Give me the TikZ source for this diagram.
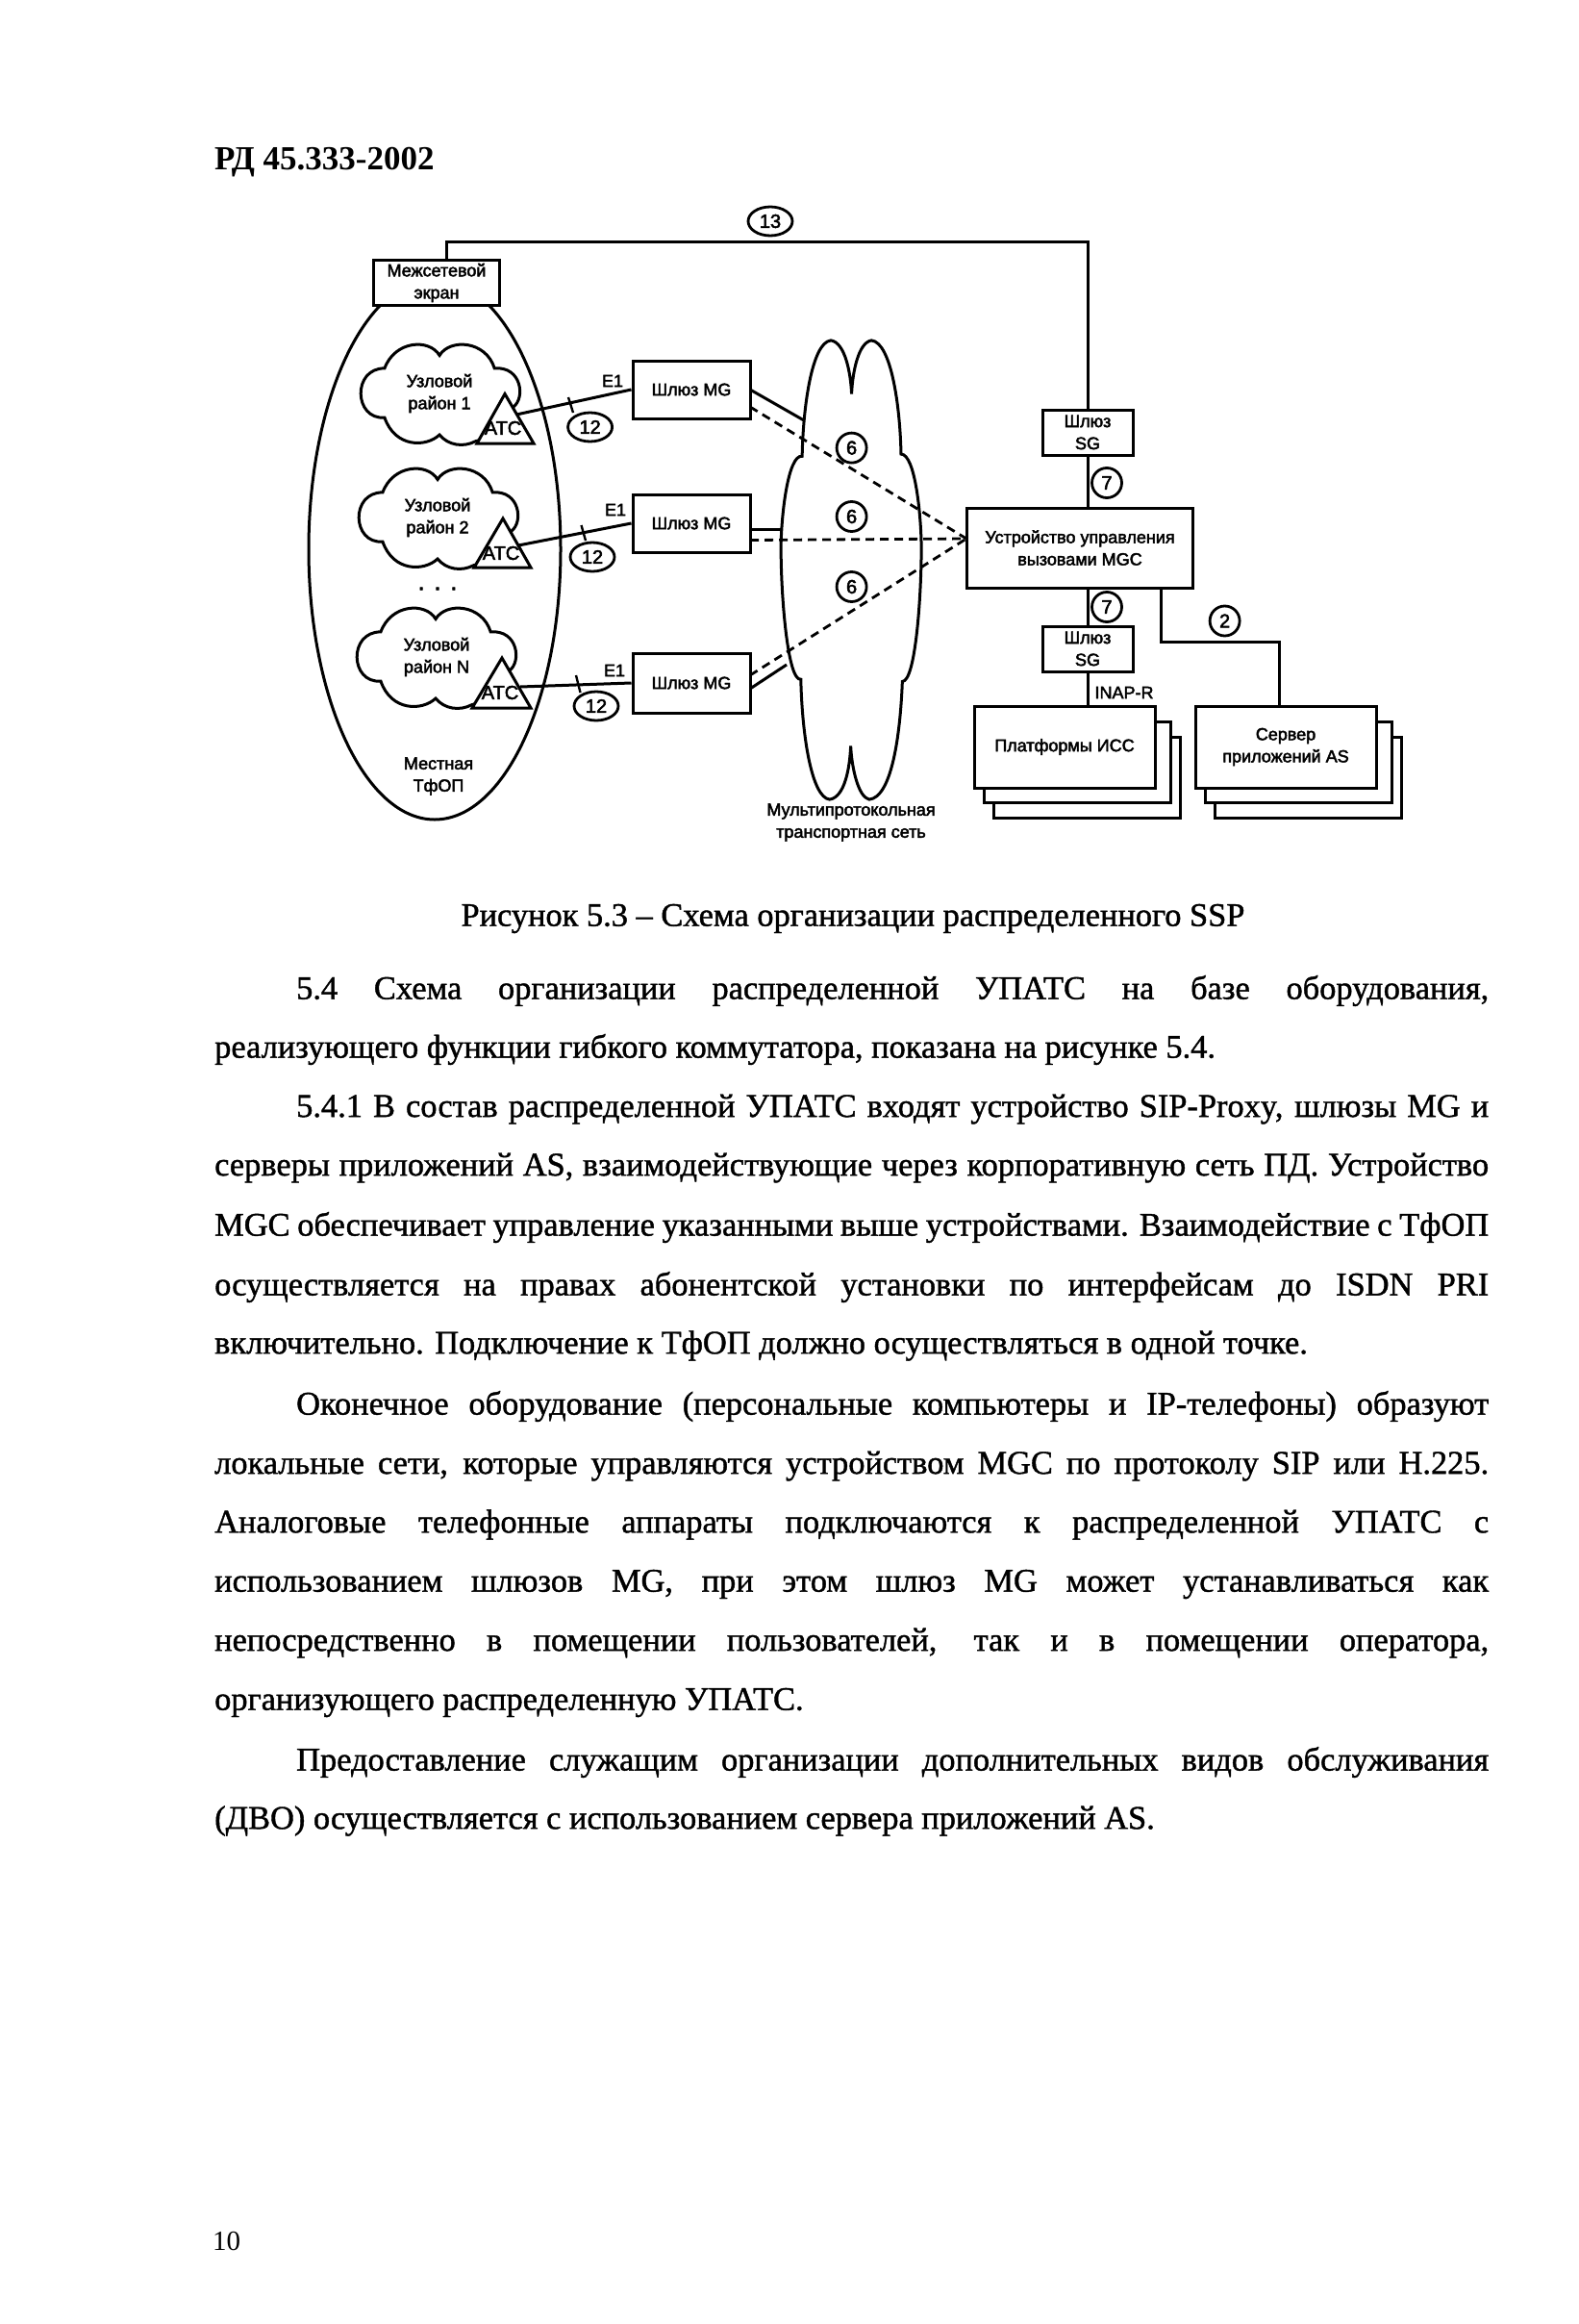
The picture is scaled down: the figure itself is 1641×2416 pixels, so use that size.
\documentclass[tikz,border=0pt]{standalone}
\usepackage{fontspec}
\usetikzlibrary{shapes.geometric}
\setmainfont{Liberation Serif}
\newfontfamily\bodyf[FakeBold=1.2]{Liberation Serif}
\newfontfamily\diagf[FakeBold=2.5]{Liberation Sans}
\newcommand{\bodysize}{\fontsize{34.4}{46}\selectfont\bodyf}
\newcommand{\dgsize}{\fontsize{18}{23}\selectfont\diagf}
\newcommand{\jline}[3]{\node[txt] (#1) at (223,#2) {\makebox[1325pt][s]{#3}};}
\newcommand{\iline}[3]{\node[txt] (#1) at (308,#2) {\makebox[1240pt][s]{#3}};}
\newcommand{\lline}[3]{\node[txt] (#1) at (223,#2) {#3};}
\newcommand{\cloudshape}[2]{%
 \begin{scope}[shift={(#1,#2)},xscale=.357,yscale=.446]
 \draw[ln,fill=white] (280,410) .. controls (310,345) and (410,340) .. (440,380)
  .. controls (470,340) and (575,345) .. (600,410)
  .. controls (680,405) and (690,480) .. (655,500)
  .. controls (650,550) and (600,570) .. (545,580)
  .. controls (510,595) and (465,590) .. (440,565)
  .. controls (400,595) and (310,595) .. (280,525)
  .. controls (190,530) and (185,410) .. (280,410) -- cycle;
 \end{scope}}
\tikzset{
 x=1pt,y=-1pt,
 ln/.style={line width=3pt,black},
 thin ln/.style={line width=2.4pt,black},
 dash ln/.style={line width=2.8pt,black,dash pattern=on 9pt off 6pt},
 txt/.style={anchor=west,inner sep=0pt,font=\bodysize},
 lbl/.style={inner sep=0pt,font=\dgsize,align=center},
 box/.style={draw,line width=3pt,fill=white,inner sep=0pt,font=\dgsize,align=center},
 circ/.style={draw,line width=2.8pt,fill=white,circle,minimum size=31pt,inner sep=0pt,font=\fontsize{20}{23}\selectfont\diagf},
 oval/.style={draw,line width=2.8pt,fill=white,ellipse,minimum width=46pt,minimum height=30pt,inner sep=0pt,font=\fontsize{20}{23}\selectfont\diagf},
}
\begin{document}
\begin{tikzpicture}
\useasboundingbox[fill=white] (0,0) rectangle (1641,2416);
\fill[white] (0,0) rectangle (1641,2416);
% header
\node[inner sep=0pt,anchor=west,font=\fontsize{35}{42}\selectfont\bfseries] (hdr) at (223,169) {РД 45.333-2002};
% big ellipse
\node[draw,line width=3pt,ellipse,minimum width=262pt,minimum height=562pt,inner sep=0pt] (pstn) at (452,571) {};
% clouds
\cloudshape{300}{200}
\cloudshape{298}{329}
\cloudshape{296}{474}
% triangles
\draw[ln,fill=white] (525,409.5) -- (496,461) -- (555,461) -- cycle;
\draw[ln,fill=white] (523,539) -- (493,590) -- (552,590) -- cycle;
\draw[ln,fill=white] (522,684) -- (491,736) -- (552,736) -- cycle;
\node[lbl,font=\fontsize{20}{23}\selectfont\diagf] (atc1) at (523,445) {АТС};
\node[lbl,font=\fontsize{20}{23}\selectfont\diagf] (atc2) at (521,575) {АТС};
\node[lbl,font=\fontsize{20}{23}\selectfont\diagf] (atc3) at (520,720) {АТС};
\coordinate (a1) at (537,431);
\coordinate (a2) at (539,567);
\coordinate (a3) at (541,714);
% cloud labels
\node[lbl] (d1) at (457,409) {Узловой\\район 1};
\node[lbl] (d2) at (455,538) {Узловой\\район 2};
\node[lbl] (d3) at (454,683) {Узловой\\район N};
\node[lbl,font=\fontsize{26}{26}\selectfont\diagf] (dots) at (455,612) {. . .};
\node[lbl] (local) at (456,807) {Местная\\ТфОП};
% firewall
\node[box,minimum width=131pt,minimum height=47pt] (fw) at (454,294) {Межсетевой\\экран};
% transport cloud
\begin{scope}[shift={(780,200)},xscale=.459,yscale=.446]
\draw[ln,fill=white] (183,345) .. controls (215,350) and (228,420) .. (230,470)
 .. controls (232,420) and (245,350) .. (275,345)
 .. controls (320,350) and (340,500) .. (342,610)
 .. controls (375,610) and (388,760) .. (388,830)
 .. controls (388,940) and (375,1140) .. (345,1140)
 .. controls (340,1270) and (320,1410) .. (270,1415)
 .. controls (245,1410) and (230,1340) .. (228,1290)
 .. controls (226,1340) and (215,1410) .. (180,1415)
 .. controls (140,1410) and (118,1270) .. (115,1135)
 .. controls (85,1140) and (70,940) .. (70,830)
 .. controls (70,760) and (85,610) .. (118,615)
 .. controls (120,500) and (140,350) .. (183,345) -- cycle;
\end{scope}
\node[lbl] (net) at (885,855) {Мультипротокольная\\транспортная сеть};
% boxes
\node[box,minimum width=122pt,minimum height=60pt] (mg1) at (719,405) {Шлюз MG};
\node[box,minimum width=122pt,minimum height=60pt] (mg2) at (719,544) {Шлюз MG};
\node[box,minimum width=122pt,minimum height=62pt] (mg3) at (719,710) {Шлюз MG};
\node[box,minimum width=235pt,minimum height=83pt] (mgc) at (1123,569.5) {Устройство управления\\вызовами MGC};
\node[box,minimum width=94pt,minimum height=47pt] (sg1) at (1131,449.5) {Шлюз\\SG};
\node[box,minimum width=94pt,minimum height=47pt] (sg2) at (1131,674.5) {Шлюз\\SG};
\node[box,minimum width=194pt,minimum height=84pt] (p3) at (1130.5,808) {};
\node[box,minimum width=194pt,minimum height=84pt] (p2) at (1120,792) {};
\node[box,minimum width=188pt,minimum height=85pt] (p1) at (1107,776.5) {Платформы ИСС};
\node[box,minimum width=194pt,minimum height=84pt] (s3) at (1360,808) {};
\node[box,minimum width=194pt,minimum height=84pt] (s2) at (1350,792) {};
\node[box,minimum width=188pt,minimum height=85pt] (s1) at (1337,776.5) {Сервер\\приложений AS};
% connectors
\coordinate (tl) at (464,252);
\coordinate (tr) at (1131,252);
\draw[ln] (fw.north -| tl) -- (tl) -- (tr) -- (sg1.north);
\draw[ln] (sg1.south) -- (mgc.north -| sg1.south);
\draw[ln] (mgc.south -| sg2.north) -- (sg2.north);
\draw[ln] (sg2.south) -- (p1.north -| sg2.south);
\coordinate (as1) at (1207,667);
\coordinate (as2) at (1330,667);
\draw[ln] (mgc.south -| as1) -- (as1) -- (as2) -- (s1.north -| as2);
\draw[ln] (a1) -- (mg1.west);
\draw[ln] (a2) -- (mg2.west);
\draw[ln] (a3) -- (mg3.west);
\coordinate (t1a) at (591,413); \coordinate (t1b) at (596,429);
\coordinate (t2a) at (604.5,546); \coordinate (t2b) at (609,562);
\coordinate (t3a) at (599,702); \coordinate (t3b) at (603.5,720);
\draw[thin ln] (t1a) -- (t1b);
\draw[thin ln] (t2a) -- (t2b);
\draw[thin ln] (t3a) -- (t3b);
\coordinate (s1e) at (836,437);
\coordinate (s2e) at (812.5,550);
\coordinate (s3e) at (818,691);
\draw[ln] (780,405) -- (s1e);
\draw[ln] (mg2.east |- s2e) -- (s2e);
\draw[ln] (780,716) -- (s3e);
\coordinate (da) at (780,423);
\coordinate (db) at (780,561.5);
\coordinate (dc) at (780,702);
\coordinate (dt) at (1005,560);
\draw[dash ln] (da) -- (dt);
\draw[dash ln] (db) -- (dt);
\draw[dash ln] (dc) -- (dt);
% labels
\node[lbl] (e1a) at (637,396) {E1};
\node[lbl] (e1b) at (640,530) {E1};
\node[lbl] (e1c) at (639,697) {E1};
\node[lbl] (inap) at (1169,720) {INAP-R};
\node[oval] (o12a) at (613.6,444) {12};
\node[oval] (o12b) at (616,579) {12};
\node[oval] (o12c) at (620,734) {12};
\node[oval] (o13) at (801,230) {13};
\node[circ] (c7a) at (1151,502) {7};
\node[circ] (c7b) at (1151,631) {7};
\node[circ] (c2) at (1273.6,645.5) {2};
\node[circ] (c6a) at (885.6,465.6) {6};
\node[circ] (c6b) at (885.6,537) {6};
\node[circ] (c6c) at (885.6,610) {6};
% text
\node[txt,anchor=center] (cap) at (887,955) {Рисунок 5.3 – Схема организации распределенного SSP};
\iline{l1}{1030}{5.4 Схема организации распределенной УПАТС на базе оборудования,}
\lline{l2}{1091}{реализующего функции гибкого коммутатора, показана на рисунке 5.4.}
\iline{l3}{1153}{5.4.1 В состав распределенной УПАТС входят устройство SIP-Proxy, шлюзы MG и}
\jline{l4}{1214}{серверы приложений AS, взаимодействующие через корпоративную сеть ПД. Устройство}
\jline{l5}{1276}{MGC обеспечивает управление указанными выше устройствами. Взаимодействие с ТфОП}
\jline{l6}{1338}{осуществляется на правах абонентской установки по интерфейсам до ISDN PRI}
\lline{l7}{1399}{включительно. Подключение к ТфОП должно осуществляться в одной точке.}
\iline{l8}{1462}{Оконечное оборудование (персональные компьютеры и IP-телефоны) образуют}
\jline{l9}{1524}{локальные сети, которые управляются устройством MGC по протоколу SIP или H.225.}
\jline{l10}{1585}{Аналоговые телефонные аппараты подключаются к распределенной УПАТС с}
\jline{l11}{1647}{использованием шлюзов MG, при этом шлюз MG может устанавливаться как}
\jline{l12}{1708}{непосредственно в помещении пользователей, так и в помещении оператора,}
\lline{l13}{1770}{организующего распределенную УПАТС.}
\iline{l14}{1832}{Предоставление служащим организации дополнительных видов обслуживания}
\lline{l15}{1893}{(ДВО) осуществляется с использованием сервера приложений AS.}
\node[inner sep=0pt,anchor=west,font=\fontsize{29}{34}\selectfont] (pg) at (221,2330) {10};
\end{tikzpicture}
\end{document}
